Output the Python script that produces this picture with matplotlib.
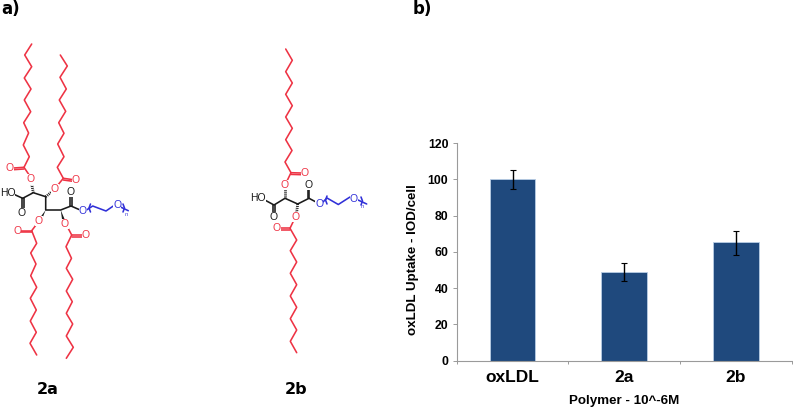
import matplotlib
matplotlib.use('Agg')
import matplotlib.pyplot as plt

# bar chart data
categorias = ['oxLDL', '2a', '2b']
valores = [100.3, 49, 65.5]
erro_baixo = [5.8, 5.2, 7.0]
erro_cima = [4.7, 4.6, 6.1]
ticks_y = [0, 20, 40, 60, 80, 100, 120]

# structure drawings, in picture pixels
VERMELHO = '#ee3344'
AZUL = '#3030d8'
PRETO = '#1a1a1a'

cadeias_2a = [
    [(31.7,44),(24.7,55),(31.7,66.7),(24.3,78),(31,89),(24.3,100),(30.7,111.7),(23.7,122.7),(28.6,133),
     (23.3,145),(29.3,156.7),(24,167.3),(29.5,175.5)],
    [(60.3,55),(67.3,66),(60,77.3),(66.3,89),(59.3,100),(65.7,111.3),(58.7,122.7),(64,133.3),(57.7,144),
     (64,156.7),(57.3,167.3),(63.3,178.3),(57.5,185.5)],
    [(36,225),(31.7,230.7),(36.7,243.3),(30.7,253),(36,264),(30.7,275.7),(36.7,287.3),(30.3,298.3),(36.3,310),
     (30.3,321),(36.3,332.3),(30,343.3),(36.7,355)],
    [(68,228),(71.7,235),(66,246.7),(71.5,258.3),(66.3,268.3),(72.7,279.3),(66.3,291),(72.3,301.7),(66.3,313.3),
     (72.7,324),(66.3,336),(73.3,347.3),(66.3,358.3)],
]
duplas_2a = [
    [(24,167.3),(13.5,168)], [(24,169),(13.5,169.7)],
    [(63.3,178.3),(72,179.5)], [(63.3,180),(72,181.2)],
    [(31.7,230.7),(21,230.7)], [(31.7,232.4),(21,232.4)],
    [(71.7,235),(82,235)], [(71.7,236.7),(82,236.7)],
]
esqueleto_2a = [
    [(11,193),(22.7,198.3),(33.3,192.7),(45.7,196.7),(45.7,210),(60.7,210),(71,206),(79,209.5)],
    [(22,198.3),(22,208.5)], [(23.6,198.3),(23.6,208.5)],
    [(70.2,206),(70.2,195.5)], [(71.9,206),(71.9,195.5)],
]
peg_2a = [[(86.5,210),(92.7,206),(106,211),(113.3,206)], [(120.5,207),(128.3,210.7)],
          [(90.5,204),(89,208),(90.5,212)], [(123,204),(124.5,208),(123,212)]]

cadeias_2b = [
    [(285.7,49),(292.3,60.3),(285.7,71.7),(292.3,83),(285.7,94.3),(292.3,105.7),(285.7,117),(292.3,128.3),
     (285.7,139.7),(292,150.5),(285,162),(291,172.7),(287,181)],
    [(293.5,221),(290,228.3),(296.7,240),(290.3,250.7),(296.7,262),(290.3,273.3),(296.7,284.7),(290.3,296),
     (296.7,307.3),(290.3,318.7),(296.7,330),(290.3,341.3),(296.7,352.7)],
]
duplas_2b = [
    [(291,172.7),(301.5,173)], [(291,174.4),(301.5,174.7)],
    [(290,228.3),(280.5,228.3)], [(290,230),(280.5,230)],
]
esqueleto_2b = [
    [(262,198.5),(274,205),(285,198.3),(297.7,204),(309,198.3),(316,202)],
    [(273.2,205),(273.2,214)], [(274.9,205),(274.9,214)],
    [(307.6,198.3),(307.6,189)], [(309.3,198.3),(309.3,189)],
]
peg_2b = [[(323,202),(327,198),(338.3,204.5),(350,197),(351,197.5)], [(358,200),(366.7,204)],
          [(327,196),(325.5,200),(327,204)], [(361,197),(362.5,201),(361,205)]]

# atom labels: text, x, y, colour
atomos = [
    ('O',10,168,VERMELHO), ('O',30.7,179.5,VERMELHO), ('O',76,180,VERMELHO), ('O',55,189.5,VERMELHO),
    ('HO',7.5,193,PRETO), ('O',22,212.7,PRETO), ('O',71,191.7,PRETO), ('O',82.7,211,AZUL), ('O',117.3,205,AZUL),
    ('O',39,220.7,VERMELHO), ('O',17.3,230.7,VERMELHO), ('O',65,224,VERMELHO), ('O',86,235,VERMELHO),
    ('HO',258.3,197.7,PRETO), ('O',273.3,217.3,PRETO), ('O',308.3,185,PRETO), ('O',319.3,204,AZUL), ('O',354,198.5,AZUL),
    ('O',285,185,VERMELHO), ('O',305,173.3,VERMELHO), ('O',296,217.3,VERMELHO), ('O',276.7,228.3,VERMELHO),
]

# solid and hashed stereo bonds: start, end
cunhas = [((45.7,210),(41.5,217.5)), ((60.7,210),(63.5,220))]
tracejadas = [((33.3,192.7),(31.5,183)), ((45.7,196.7),(51.5,192)),
              ((285,198.3),(285,189)), ((297.7,204),(296.5,213.5))]

plt.rcParams['font.family'] = ['Liberation Sans', 'DejaVu Sans']

L, A = 793, 409
fig = plt.figure(figsize=(L/100, A/100), dpi=100)

# overlay in pixel coordinates for the two molecules
fundo = fig.add_axes([0, 0, 1, 1])
fundo.set_xlim(0, L)
fundo.set_ylim(A, 0)
fundo.axis('off')

def desenha(linhas, cor, lw=1.15):
    for linha in linhas:
        fundo.plot([p[0] for p in linha], [p[1] for p in linha], color=cor, lw=lw, solid_capstyle='round')

desenha(cadeias_2a + duplas_2a, VERMELHO)
desenha(cadeias_2b + duplas_2b, VERMELHO)
desenha(esqueleto_2a + esqueleto_2b, PRETO)
desenha(peg_2a + peg_2b, AZUL)

for ini, fim in cunhas:
    dx, dy = (fim[1]-ini[1])*0.13, -(fim[0]-ini[0])*0.13
    fundo.fill([ini[0], fim[0]+dx, fim[0]-dx], [ini[1], fim[1]+dy, fim[1]-dy], color=PRETO, lw=0)
for ini, fim in tracejadas:
    fundo.plot([ini[0], fim[0]], [ini[1], fim[1]], color=PRETO, lw=2.0, ls=(0, (0.35, 0.35)))

for t, x, y, c in atomos:
    fundo.text(x, y, t, color=c, fontsize=7.5, ha='center', va='center', family='Liberation Sans',
               bbox=dict(fc='white', ec='none', pad=0.1))
fundo.text(126, 214, 'n', color=AZUL, fontsize=4, style='italic', ha='center', va='center')
fundo.text(362.5, 206.5, 'n', color=AZUL, fontsize=4, style='italic', ha='center', va='center')

fundo.text(1, 9, 'a)', fontsize=12, fontweight='bold', family='DejaVu Sans', ha='left', va='center')
fundo.text(413, 9, 'b)', fontsize=12, fontweight='bold', family='DejaVu Sans', ha='left', va='center')
fundo.text(48, 389, '2a', fontsize=11.5, fontweight='bold', family='DejaVu Sans', ha='center', va='center')
fundo.text(296, 389, '2b', fontsize=11.5, fontweight='bold', family='DejaVu Sans', ha='center', va='center')

# the bar chart
ax = fig.add_axes([456.7/L, 1-360.5/A, 335/L, 217.2/A])
ax.patch.set_alpha(0)
pos = list(range(len(categorias)))
ax.bar(pos, valores, width=0.41, color='#1f497d', edgecolor='#b9cde5', linewidth=0.6,
       yerr=[erro_baixo, erro_cima], error_kw=dict(ecolor='black', elinewidth=1, capsize=2.5, capthick=0.8))
ax.set_xlim(-0.5, 2.5)
ax.set_ylim(0, 120)
ax.set_yticks(ticks_y)
ax.set_xticks(pos)
ax.set_xticklabels(categorias, fontsize=12.5, fontweight='bold')
ax.set_xticks([-0.5, 0.5, 1.5, 2.5], minor=True)
ax.tick_params(axis='x', which='major', length=0, pad=7)
ax.tick_params(axis='x', which='minor', length=2, color='#9a9a9a', width=0.7)
ax.tick_params(axis='y', length=3, color='#9a9a9a', width=0.7, pad=3, labelsize=8.8)
for lab in ax.get_yticklabels():
    lab.set_fontweight('bold')
ax.spines['top'].set_visible(False)
ax.spines['right'].set_visible(False)
ax.spines['left'].set_color('#9a9a9a')
ax.spines['bottom'].set_color('#9a9a9a')
ax.set_xlabel('Polymer - 10^-6M', fontsize=9.6, fontweight='bold', labelpad=7)
ax.set_ylabel('oxLDL Uptake - IOD/cell', fontsize=9.6, fontweight='bold', labelpad=6, y=0.467)

fig.savefig('out.png', dpi=100)
